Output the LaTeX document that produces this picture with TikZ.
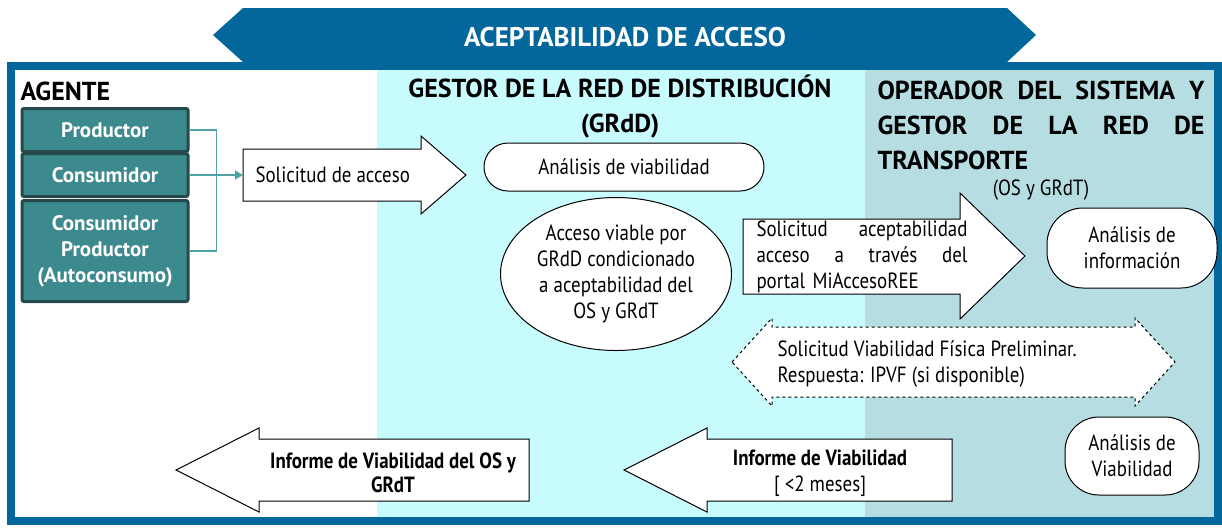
\documentclass[tikz,border=0pt]{standalone}
\usepackage{fontspec}
\setmainfont{PT Sans}[FakeStretch=0.86]
\newfontfamily\headfont{PT Sans}
\usepackage{tikz}
\usetikzlibrary{
    shapes.geometric,
    arrows.meta,
    positioning
}
\definecolor{bannerblue}{HTML}{04679B}
\definecolor{grddcyan}{HTML}{C8FBFD}
\definecolor{osgray}{HTML}{B6DEE2}
\definecolor{agentfill}{HTML}{3D8A8E}
\definecolor{agentline}{HTML}{27494B}
\definecolor{linkteal}{HTML}{4FA3A8}

\begin{document}
\begin{tikzpicture}[x=1pt, y=-1pt,
    agentbox/.style={draw=agentline, line width=3pt, fill=agentfill, rounded corners=2pt,
        minimum width=166pt, text=white, align=center,
        font=\headfont\fontsize{21}{26}\selectfont\bfseries},
    txt/.style={font=\fontsize{22}{26}\selectfont, align=center},
    txtbold/.style={font=\fontsize{22}{24}\selectfont\bfseries, align=center},
    colhead/.style={font=\headfont\fontsize{26}{35}\selectfont\bfseries},
    blockarrow/.style={draw, fill=white, line width=1pt},
    link/.style={draw=linkteal, line width=1.5pt},
    pill/.style={draw, fill=white, line width=1pt, txt}
]
    \useasboundingbox (0,0) rectangle (1222,528);
    \fill[grddcyan] (377,66) rectangle (865,521);
    \fill[osgray] (865,66) rectangle (1218,521);
    \draw[bannerblue, line width=8pt] (11,66) rectangle (1218,521);
    \fill[bannerblue] (213,35) -- (243,8) -- (1007,8) -- (1036,35) -- (1007,62) -- (243,62) -- cycle;
    \node[colhead, text=white, font=\headfont\fontsize{27}{30}\selectfont\bfseries] (banner) at (625,37) {ACEPTABILIDAD DE ACCESO};

    \node[colhead, anchor=west] (agente) at (17,91) {AGENTE};
    \node[colhead, align=center] (grdd) at (620,107) {GESTOR DE LA RED DE DISTRIBUCIÓN\\(GRdD)};
    \node[colhead, text width=327pt, align=left] (osgrdt) at (1041,125)
        {OPERADOR\hfill DEL\hfill SISTEMA\hfill Y\\GESTOR\hfill DE\hfill LA\hfill RED\hfill DE\\TRANSPORTE};
    \node[txt] (osgrdtabbr) at (1041,190) {(OS y GRdT)};

    \node[agentbox, minimum height=43pt] (productor) at (105,130) {Productor};
    \node[agentbox, minimum height=43pt] (consumidor) at (105,175) {Consumidor};
    \node[agentbox, minimum height=101pt] (autoconsumo) at (105,251) {Consumidor\\Productor\\(Autoconsumo)};

    \draw[blockarrow] (243,149) -- (421,149) -- (421,136) -- (466,175) -- (421,214) -- (421,201) -- (243,201) -- cycle;
    \coordinate (solin) at (243,175);
    \node[txt, anchor=west] (solicitud) at (252,175) {Solicitud de acceso};
    \draw[link] (productor.east) -- ++(27,0) |- (autoconsumo.east);
    \draw[link, -{Triangle[length=8pt, width=9pt]}] (consumidor.east) -- (solin);

    \node[pill, rounded corners=24pt, minimum width=280pt, minimum height=48pt] (viabilidad) at (624,167) {Análisis de viabilidad};
    \node[ellipse, draw, fill=white, line width=1pt, txt, inner sep=0pt,
        minimum width=231pt, minimum height=153pt] (condicionado) at (616,274)
        {Acceso viable por\\GRdD condicionado\\a aceptabilidad del\\OS y GRdT};

    \draw[blockarrow] (743,219) -- (960,219) -- (960,193) -- (1025,256) -- (960,319) -- (960,294) -- (743,294) -- cycle;
    \node[txt, text width=211pt, align=left] (aceptabilidad) at (862,257)
        {Solicitud\hfill aceptabilidad\\acceso\hfill a\hfill través\hfill del\\portal MiAccesoREE};
    \node[pill, rounded corners=36pt, minimum width=170pt, minimum height=80pt] (informacion) at (1132,248) {Análisis de\\información};

    \draw[blockarrow, dashed] (732,362) -- (772,318) -- (772,327) -- (1135,327) -- (1135,318) -- (1175,362)
        -- (1135,406) -- (1135,397) -- (772,397) -- (772,406) -- cycle;
    \node[txt, align=left, anchor=west] (preliminar) at (774,364)
        {Solicitud Viabilidad Física Preliminar.\\Respuesta: IPVF (si disponible)};

    \node[pill, rounded corners=34pt, minimum width=134pt, minimum height=78pt] (analisisviab) at (1132,456) {Análisis de\\Viabilidad};

    \draw[blockarrow] (952,439) -- (707,439) -- (707,428) -- (624,470) -- (707,512) -- (707,501) -- (952,501) -- cycle;
    \node[txt] (informe) at (820,473) {{\bfseries Informe de Viabilidad}\\{[} <2 meses]};
    \draw[blockarrow] (529,439) -- (259,439) -- (259,428) -- (176,470) -- (259,512) -- (259,501) -- (529,501) -- cycle;
    \node[txtbold] (informeos) at (393,473) {Informe de Viabilidad del OS y\\GRdT};
\end{tikzpicture}
\end{document}
